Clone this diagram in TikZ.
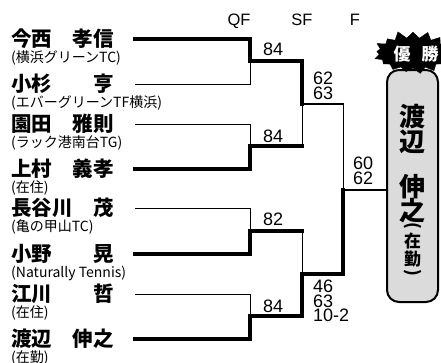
\documentclass[tikz,border=0pt]{standalone}
\usepackage{fontspec}
\setmainfont{Liberation Sans}
\newfontfamily\jpfont{Noto Sans CJK JP}
\usetikzlibrary{shapes.symbols}

\begin{document}
\begin{tikzpicture}[
        x=1pt, y=-1pt,
        win/.style={line width=3.2pt, line cap=rect},
        lose/.style={line width=0.9pt},
        semi/.style={line width=2pt, line cap=rect},
        player/.style={anchor=west, inner sep=0pt, font=\jpfont\bfseries\fontsize{20.5}{20.5}\selectfont},
        club/.style={anchor=west, inner sep=0pt, font=\jpfont\fontsize{14}{14}\selectfont},
        roundlabel/.style={anchor=base, inner sep=0pt, font=\fontsize{16.5}{16.5}\selectfont},
        score/.style={anchor=north west, inner sep=0pt, align=left, font=\fontsize{18}{14.5}\selectfont},
        champbox/.style={draw, line width=2pt, rounded corners=12pt, fill=black!14, minimum width=51pt, minimum height=232pt},
        bigchar/.style={inner sep=0pt, font=\jpfont\bfseries\fontsize{26}{26}\selectfont},
        smallchar/.style={inner sep=0pt, font=\jpfont\bfseries\fontsize{17}{17}\selectfont},
        paren/.style={inner sep=0pt, rotate=-90, font=\jpfont\bfseries\fontsize{17}{17}\selectfont},
        badge/.style={starburst, fill=black, draw=black, minimum width=84pt, minimum height=46pt, starburst point height=8pt, random starburst=11}
    ]

    \useasboundingbox (0,0) rectangle (441,362);

    % Round labels
    \node[roundlabel] (QF) at (239,25) {QF};
    \node[roundlabel] (SF) at (302,25) {SF};
    \node[roundlabel] (FI) at (355,25) {F};

    % Players and clubs
    \foreach \i/\y/\pname/\pclub in {
        1/39/今西　孝信/(横浜グリーンTC),
        2/84/小杉　　亨/(エバーグリーンTF横浜),
        3/124/園田　雅則/(ラック港南台TG),
        4/169/上村　義孝/(在住),
        5/208/長谷川　茂/(亀の甲山TC),
        6/254/小野　　晃/(Naturally Tennis),
        7/294/江川　　哲/(在住),
        8/339/渡辺　伸之/(在勤)} {
        \node[player] (P-\i) at (11,\y) {\pname};
        \node[club] (C-\i) at (11,\y+19) {\pclub};
        \coordinate (L-\i) at (135,\y);
    }

    % Match points
    \coordinate (Q-1) at (250,61);
    \coordinate (Q-2) at (250,146);
    \coordinate (Q-3) at (250,231);
    \coordinate (Q-4) at (250,316);
    \coordinate (S-1) at (302,104);
    \coordinate (S-2) at (302,274);
    \coordinate (F) at (343,190);

    % Quarterfinals
    \foreach \i/\j/\w in {1/1/win, 2/1/lose, 3/2/lose, 4/2/win, 5/3/lose, 6/3/win, 7/4/lose, 8/4/win}
    \draw[\w] (L-\i) -| (Q-\j);

    % Semifinals
    \foreach \i/\j/\w in {1/1/win, 2/1/lose, 3/2/lose, 4/2/win} {
        \draw[win] (Q-\i) -- (Q-\i -| S-\j);
        \draw[\w] (Q-\i -| S-\j) -- (S-\j);
    }

    % Final
    \draw[semi] (S-1) -- (S-1 -| F);
    \draw[lose] (S-1 -| F) -- (F);
    \draw[win] (S-2) -| (F);

    % Champion
    \node[champbox] (W) at (412.5,186) {};
    \draw[semi] (F) -- (F -| W.west);
    \foreach \ch/\y [count=\k] in {渡/117, 辺/142, 伸/187, 之/211}
    \node[bigchar] (V-\k) at (412.5,\y) {\ch};
    \node[paren] (U-1) at (413,226) {(};
    \node[smallchar] (U-2) at (412.5,241) {在};
    \node[smallchar] (U-3) at (412.5,259) {勤};
    \node[paren] (U-4) at (413,273) {)};

    \node[badge] (B) at (413,53) {};
    \node[inner sep=0pt, text=white, font=\jpfont\bfseries\fontsize{17}{17}\selectfont] (B-text) at (416,54) {優\hspace{11pt}勝};

    % Scores
    \node[score] (R-1) at (263,43) {84};
    \node[score] (R-2) at (263,130) {84};
    \node[score] (R-3) at (263,213) {82};
    \node[score] (R-4) at (263,300) {84};
    \node[score] (R-5) at (313,72) {62\\63};
    \node[score] (R-6) at (313,280) {46\\63\\10-2};
    \node[score] (R-7) at (353,157) {60\\62};

\end{tikzpicture}
\end{document}
